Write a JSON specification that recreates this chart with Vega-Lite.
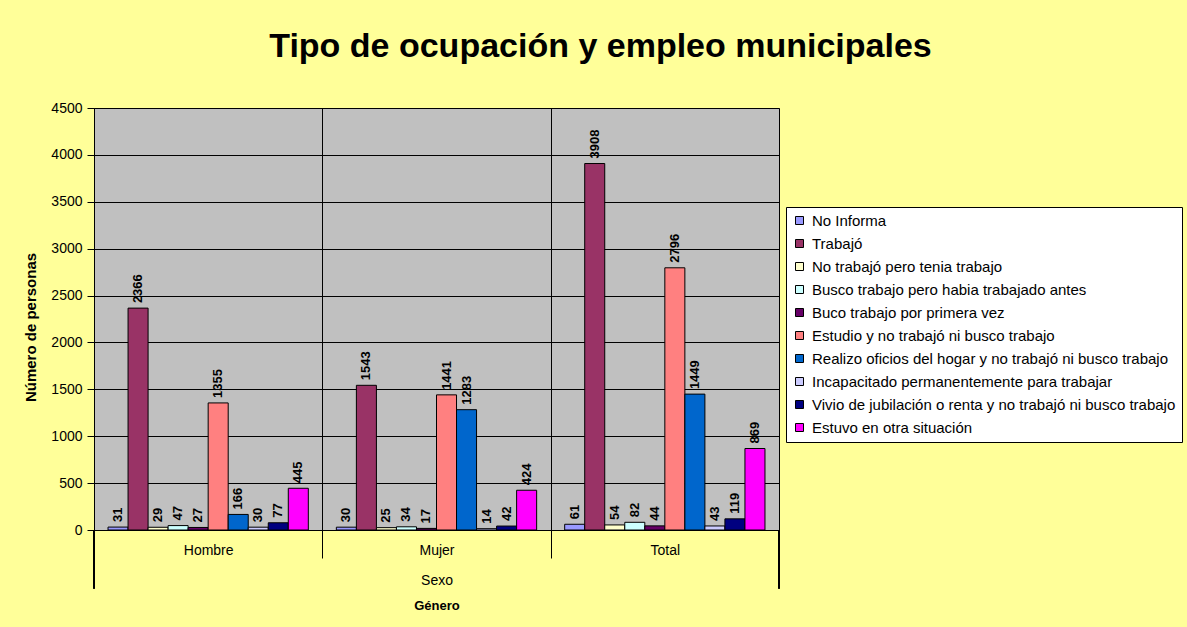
{
  "$schema": "https://vega.github.io/schema/vega-lite/v6.json",
  "width": 685,
  "height": 422,
  "autosize": {"type": "none"},
  "padding": {"left": 94, "top": 108, "right": 408, "bottom": 97},
  "background": "#FFFF99",
  "config": {
    "font": "Liberation Sans",
    "view": {"fill": "#C0C0C0", "stroke": "#808080", "strokeWidth": 1}
  },
  "title": {
    "text": "Tipo de ocupación y empleo municipales",
    "font": "Liberation Sans",
    "fontSize": 34,
    "fontWeight": "bold",
    "color": "black",
    "anchor": "middle",
    "frame": "group",
    "baseline": "alphabetic",
    "offset": 10,
    "dx": 164
  },
  "data": {
    "values": [
      {"sexo": "Hombre", "tipo": "No Informa", "n": 31},
      {"sexo": "Hombre", "tipo": "Trabajó", "n": 2366},
      {"sexo": "Hombre", "tipo": "No trabajó pero tenia trabajo", "n": 29},
      {"sexo": "Hombre", "tipo": "Busco trabajo pero habia trabajado antes", "n": 47},
      {"sexo": "Hombre", "tipo": "Buco trabajo por primera vez", "n": 27},
      {"sexo": "Hombre", "tipo": "Estudio y no trabajó ni busco trabajo", "n": 1355},
      {"sexo": "Hombre", "tipo": "Realizo oficios del hogar y no trabajó ni busco trabajo", "n": 166},
      {"sexo": "Hombre", "tipo": "Incapacitado permanentemente para trabajar", "n": 30},
      {"sexo": "Hombre", "tipo": "Vivio de jubilación o renta y no trabajó ni busco trabajo", "n": 77},
      {"sexo": "Hombre", "tipo": "Estuvo en otra situación", "n": 445},
      {"sexo": "Mujer", "tipo": "No Informa", "n": 30},
      {"sexo": "Mujer", "tipo": "Trabajó", "n": 1543},
      {"sexo": "Mujer", "tipo": "No trabajó pero tenia trabajo", "n": 25},
      {"sexo": "Mujer", "tipo": "Busco trabajo pero habia trabajado antes", "n": 34},
      {"sexo": "Mujer", "tipo": "Buco trabajo por primera vez", "n": 17},
      {"sexo": "Mujer", "tipo": "Estudio y no trabajó ni busco trabajo", "n": 1441},
      {"sexo": "Mujer", "tipo": "Realizo oficios del hogar y no trabajó ni busco trabajo", "n": 1283},
      {"sexo": "Mujer", "tipo": "Incapacitado permanentemente para trabajar", "n": 14},
      {"sexo": "Mujer", "tipo": "Vivio de jubilación o renta y no trabajó ni busco trabajo", "n": 42},
      {"sexo": "Mujer", "tipo": "Estuvo en otra situación", "n": 424},
      {"sexo": "Total", "tipo": "No Informa", "n": 61},
      {"sexo": "Total", "tipo": "Trabajó", "n": 3908},
      {"sexo": "Total", "tipo": "No trabajó pero tenia trabajo", "n": 54},
      {"sexo": "Total", "tipo": "Busco trabajo pero habia trabajado antes", "n": 82},
      {"sexo": "Total", "tipo": "Buco trabajo por primera vez", "n": 44},
      {"sexo": "Total", "tipo": "Estudio y no trabajó ni busco trabajo", "n": 2796},
      {"sexo": "Total", "tipo": "Realizo oficios del hogar y no trabajó ni busco trabajo", "n": 1449},
      {"sexo": "Total", "tipo": "Incapacitado permanentemente para trabajar", "n": 43},
      {"sexo": "Total", "tipo": "Vivio de jubilación o renta y no trabajó ni busco trabajo", "n": 119},
      {"sexo": "Total", "tipo": "Estuvo en otra situación", "n": 869}
    ]
  },
  "resolve": {"axis": {"x": "independent"}},
  "layer": [
    {
      "mark": {"type": "bar", "stroke": "black", "strokeWidth": 1},
      "encoding": {
        "x": {
          "field": "sexo",
          "type": "nominal",
          "sort": ["Hombre", "Mujer", "Total"],
          "scale": {"paddingInner": 0, "paddingOuter": 0},
          "axis": {
            "orient": "bottom",
            "title": "Sexo",
            "titleFont": "Liberation Sans",
            "titleFontSize": 14,
            "titleFontWeight": "normal",
            "titleColor": "black",
            "titleY": 50,
            "titleBaseline": "middle",
            "labelAngle": 0,
            "labelFontSize": 14,
            "labelColor": "black",
            "labelPadding": -15,
            "tickBand": "extent",
            "tickSize": 28,
            "tickColor": "black",
            "domainColor": "black",
            "grid": true,
            "gridColor": "black",
            "gridOpacity": 1
          }
        },
        "xOffset": {
          "field": "tipo",
          "type": "nominal",
          "sort": null,
          "scale": {"paddingInner": 0, "paddingOuter": 0.7}
        },
        "y": {
          "field": "n",
          "type": "quantitative",
          "scale": {"domain": [0, 4500]},
          "axis": {
            "title": "Número de personas",
            "titleFont": "Liberation Sans",
            "titleFontSize": 15,
            "titleFontWeight": "bold",
            "titleColor": "black",
            "titlePadding": 12,
            "titleY": 219,
            "format": "d",
            "values": [0, 500, 1000, 1500, 2000, 2500, 3000, 3500, 4000, 4500],
            "labelFontSize": 14,
            "labelColor": "black",
            "labelPadding": 5,
            "tickSize": 7,
            "tickColor": "black",
            "domainColor": "black",
            "grid": true,
            "gridColor": "black",
            "gridOpacity": 1
          }
        },
        "color": {
          "field": "tipo",
          "type": "nominal",
          "sort": null,
          "scale": {
            "domain": [
              "No Informa",
              "Trabajó",
              "No trabajó pero tenia trabajo",
              "Busco trabajo pero habia trabajado antes",
              "Buco trabajo por primera vez",
              "Estudio y no trabajó ni busco trabajo",
              "Realizo oficios del hogar y no trabajó ni busco trabajo",
              "Incapacitado permanentemente para trabajar",
              "Vivio de jubilación o renta y no trabajó ni busco trabajo",
              "Estuvo en otra situación"
            ],
            "range": ["#9999FF", "#993366", "#FFFFCC", "#CCFFFF", "#660066", "#FF8080", "#0066CC", "#CCCCFF", "#000080", "#FF00FF"]
          },
          "legend": {
            "title": null,
            "orient": "none",
            "legendX": 692,
            "legendY": 99,
            "fillColor": "white",
            "strokeColor": "black",
            "padding": 6,
            "symbolType": "square",
            "symbolSize": 64,
            "symbolStrokeColor": "black",
            "symbolStrokeWidth": 1,
            "symbolOpacity": 1,
            "labelFont": "Liberation Sans",
            "labelFontSize": 15,
            "labelColor": "black",
            "labelLimit": 500,
            "labelOffset": 5,
            "rowPadding": 7
          }
        }
      }
    },
    {
      "mark": {"type": "text", "angle": 270, "align": "left", "baseline": "middle", "dx": 5, "fontSize": 13, "fontWeight": "bold", "color": "black"},
      "encoding": {
        "x": {"field": "sexo", "type": "nominal", "sort": ["Hombre", "Mujer", "Total"], "axis": null},
        "xOffset": {"field": "tipo", "type": "nominal", "sort": null},
        "y": {"field": "n", "type": "quantitative"},
        "text": {"field": "n", "type": "quantitative"}
      }
    },
    {
      "mark": {"type": "rule", "color": "black", "strokeWidth": 1},
      "encoding": {
        "x": {
          "datum": "Hombre",
          "type": "nominal",
          "bandPosition": 0,
          "axis": {
            "orient": "bottom",
            "title": "Género",
            "titleFont": "Liberation Sans",
            "titleFontSize": 13,
            "titleFontWeight": "bold",
            "titleColor": "black",
            "titleY": 75,
            "titleBaseline": "middle",
            "labels": false,
            "ticks": false,
            "domain": false,
            "grid": false
          }
        },
        "y": {"datum": 0, "type": "quantitative", "scale": {"domain": [0, 4500]}},
        "y2": {"datum": -620}
      }
    },
    {
      "mark": {"type": "rule", "color": "black", "strokeWidth": 1},
      "encoding": {
        "x": {"datum": "Total", "type": "nominal", "bandPosition": 1, "axis": null},
        "y": {"datum": 0, "type": "quantitative", "scale": {"domain": [0, 4500]}},
        "y2": {"datum": -620}
      }
    }
  ]
}
